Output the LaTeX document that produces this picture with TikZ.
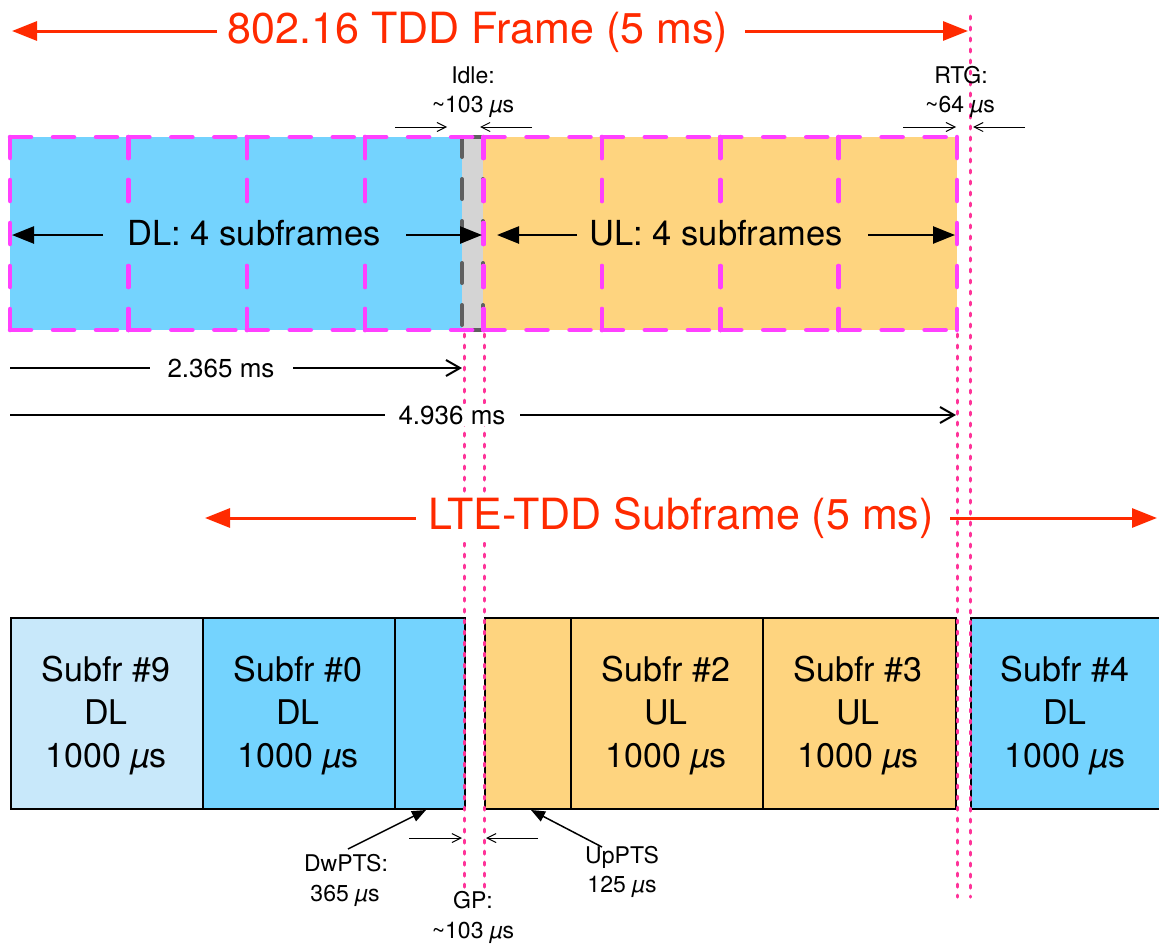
\documentclass[tikz,border=0pt]{standalone}
\usepackage{fontspec}
\setmainfont{TeX Gyre Heros}
\usetikzlibrary{arrows.meta}

\definecolor{dlblue}{HTML}{74D3FE}
\definecolor{dllight}{HTML}{C8E8FA}
\definecolor{ulorange}{HTML}{FED47F}
\definecolor{idlegray}{HTML}{D4D4D4}
\definecolor{idleedge}{HTML}{5F5F5F}
\definecolor{sfmagenta}{HTML}{FF40FF}
\definecolor{guidepink}{HTML}{FF3399}
\definecolor{titlered}{HTML}{FF2A00}

\newcommand{\us}{{\itshape µ}s}

\tikzset{
  titletext/.style={text=titlered, font=\fontsize{43}{50}\selectfont, inner sep=0pt, anchor=base},
  redarrow/.style={draw=titlered, line width=3pt, -{Triangle[length=25pt,width=19pt]}},
  bigarrow/.style={line width=2.5pt, -{Triangle[length=22pt,width=17pt]}},
  thinarrow/.style={line width=1pt, -{Straight Barb[length=9pt,width=9pt]}},
  measarrow/.style={line width=2pt, -{Straight Barb[length=14pt,width=16pt]}},
  ptsarrow/.style={line width=1.5pt, -{Triangle[length=14pt,width=11pt]}},
  guide/.style={draw=guidepink, line width=3pt, dash pattern=on 3pt off 8pt, line cap=round},
  sfdash/.style={draw=sfmagenta, line width=4.5pt, dash pattern=on 21pt off 22pt, line cap=round},
  idledash/.style={draw=idleedge, line width=4pt, dash pattern=on 20pt off 22pt, line cap=round},
  ltebox/.style={draw=black, line width=2pt, anchor=north west, minimum height=191pt, inner sep=0pt},
  boxtext/.style={align=center, font=\fontsize{34}{43}\selectfont, inner sep=0pt},
  midtext/.style={font=\fontsize{34.5}{40}\selectfont, inner xsep=2pt, inner ysep=8pt, anchor=base},
  smalltext/.style={font=\fontsize{23}{28}\selectfont, inner sep=0pt, anchor=base},
  meastext/.style={font=\fontsize{26}{30}\selectfont, inner sep=2pt, anchor=base},
}

\begin{document}
\begin{tikzpicture}[x=1pt,y=-1pt]
\useasboundingbox (0,0) rectangle (1159,945);

% ---------- 802.16 frame ----------
\fill[dlblue] (10,137) rectangle (462,330);
\fill[ulorange] (483,137) rectangle (957,330);
\fill[idlegray] (462,137) rectangle (483,330);
\draw[idledash] (462,137) -- (483,137);
\draw[idledash] (462,330) -- (483,330);
\draw[idledash] (462,137) -- (462,330);
\draw[idledash] (483,137) -- (483,330);
% eight subframe outlines, every edge drawn in the same direction
\foreach \i in {0,...,7}{
  \pgfmathsetmacro{\xa}{10+118.375*\i}
  \pgfmathsetmacro{\xb}{10+118.375*(\i+1)}
  \draw[sfdash] (\xa,137) -- (\xb,137);
  \draw[sfdash] (\xa,330) -- (\xb,330);
  \draw[sfdash] (\xa,137) -- (\xa,330);
  \draw[sfdash] (\xb,137) -- (\xb,330);
}

% ---------- LTE subframes ----------
\node[ltebox, fill=dllight, minimum width=192pt] (sf9) at (10,617) {};
\node[ltebox, fill=dlblue, minimum width=192pt] (sf0) at (202,617) {};
\node[ltebox, fill=dlblue, minimum width=70pt] (dw) at (394,617) {};
\node[ltebox, fill=ulorange, minimum width=86pt] (up) at (484,617) {};
\node[ltebox, fill=ulorange, minimum width=192pt] (sf2) at (570,617) {};
\node[ltebox, fill=ulorange, minimum width=193pt] (sf3) at (762,617) {};
\node[ltebox, fill=dlblue, minimum width=215pt] (sf4) at (970,617) {};

\node[boxtext] (sf9t) at (106,716) {Subfr \#9\\DL\\1000 \us};
\node[boxtext] (sf0t) at (298,716) {Subfr \#0\\DL\\1000 \us};
\node[boxtext] (sf2t) at (666,716) {Subfr \#2\\UL\\1000 \us};
\node[boxtext] (sf3t) at (858,716) {Subfr \#3\\UL\\1000 \us};
\node[boxtext] (sf4t) at (1065,716) {Subfr \#4\\DL\\1000 \us};

% ---------- guide lines ----------
\draw[guide] (464,334) -- (464,887);
\draw[guide] (484,334) -- (484,887);
\draw[guide] (957,334) -- (957,897);
\draw[guide] (970,16) -- (970,897);

% ---------- titles ----------
\node[titletext] (frame) at (478,43) {802.16 TDD Frame (5 ms)};
\coordinate (frameL) at (12,31);
\coordinate (frameR) at (968,31);
\draw[redarrow] (217,31) -- (frameL);
\draw[redarrow] (745,31) -- (frameR);

\node[titletext, fill=white, inner ysep=4pt, inner xsep=2pt] (lte) at (681,529) {LTE-TDD Subframe (5 ms)};
\coordinate (lteL) at (205,518);
\coordinate (lteR) at (1157,518);
\draw[redarrow] (416,518) -- (lteL);
\draw[redarrow] (950,518) -- (lteR);

% ---------- DL / UL spans ----------
\node[midtext, fill=dlblue] (dlt) at (254,245) {DL: 4 subframes};
\node[midtext, fill=ulorange] (ult) at (716,245) {UL: 4 subframes};
\coordinate (dlL) at (12,235);
\coordinate (dlR) at (482,235);
\coordinate (ulL) at (497,235);
\coordinate (ulR) at (955,235);
\draw[bigarrow] (103,235) -- (dlL);
\draw[bigarrow] (406,235) -- (dlR);
\draw[bigarrow] (577,235) -- (ulL);
\draw[bigarrow] (868,235) -- (ulR);

% ---------- idle gap and RTG ----------
\node[smalltext] (idleA) at (473,83) {Idle:};
\node[smalltext] (idleB) at (473,112) {\textasciitilde103 \us};
\coordinate (idleL) at (447,127);
\coordinate (idleR) at (480,127);
\draw[thinarrow] (395,127) -- (idleL);
\draw[thinarrow] (532,127) -- (idleR);

\node[smalltext] (rtgA) at (961,83) {RTG:};
\node[smalltext] (rtgB) at (960,112) {\textasciitilde64 \us};
\coordinate (rtgL) at (956,127);
\coordinate (rtgR) at (973,127);
\draw[thinarrow] (903,127) -- (rtgL);
\draw[thinarrow] (1025,127) -- (rtgR);

% ---------- durations ----------
\node[meastext] (m1) at (221,377) {2.365 ms};
\coordinate (m1L) at (10,368);
\coordinate (m1R) at (462,368);
\draw[line width=2pt] (m1L) -- (150,368);
\draw[measarrow] (293,368) -- (m1R);

\node[meastext, fill=white] (m2) at (452,424) {4.936 ms};
\coordinate (m2L) at (10,415);
\coordinate (m2R) at (956,415);
\draw[line width=2pt] (m2L) -- (385,415);
\draw[measarrow] (520,415) -- (m2R);

% ---------- special subframe fields ----------
\node[smalltext] (dwA) at (346,871) {DwPTS:};
\node[smalltext] (dwB) at (345,901) {365 \us};
\draw[ptsarrow] (348,849) -- ([xshift=-4pt]dw.south);

\node[smalltext] (gpA) at (473,908) {GP:};
\node[smalltext] (gpB) at (473,938) {\textasciitilde103 \us};
\coordinate (gpL) at (462,838);
\coordinate (gpR) at (486,838);
\draw[thinarrow] (409,838) -- (gpL);
\draw[thinarrow] (538,838) -- (gpR);

\node[smalltext] (upA) at (622,863) {UpPTS};
\node[smalltext] (upB) at (622,892) {125 \us};
\draw[ptsarrow] (602,847) -- ([xshift=3pt]up.south);
\end{tikzpicture}
\end{document}
